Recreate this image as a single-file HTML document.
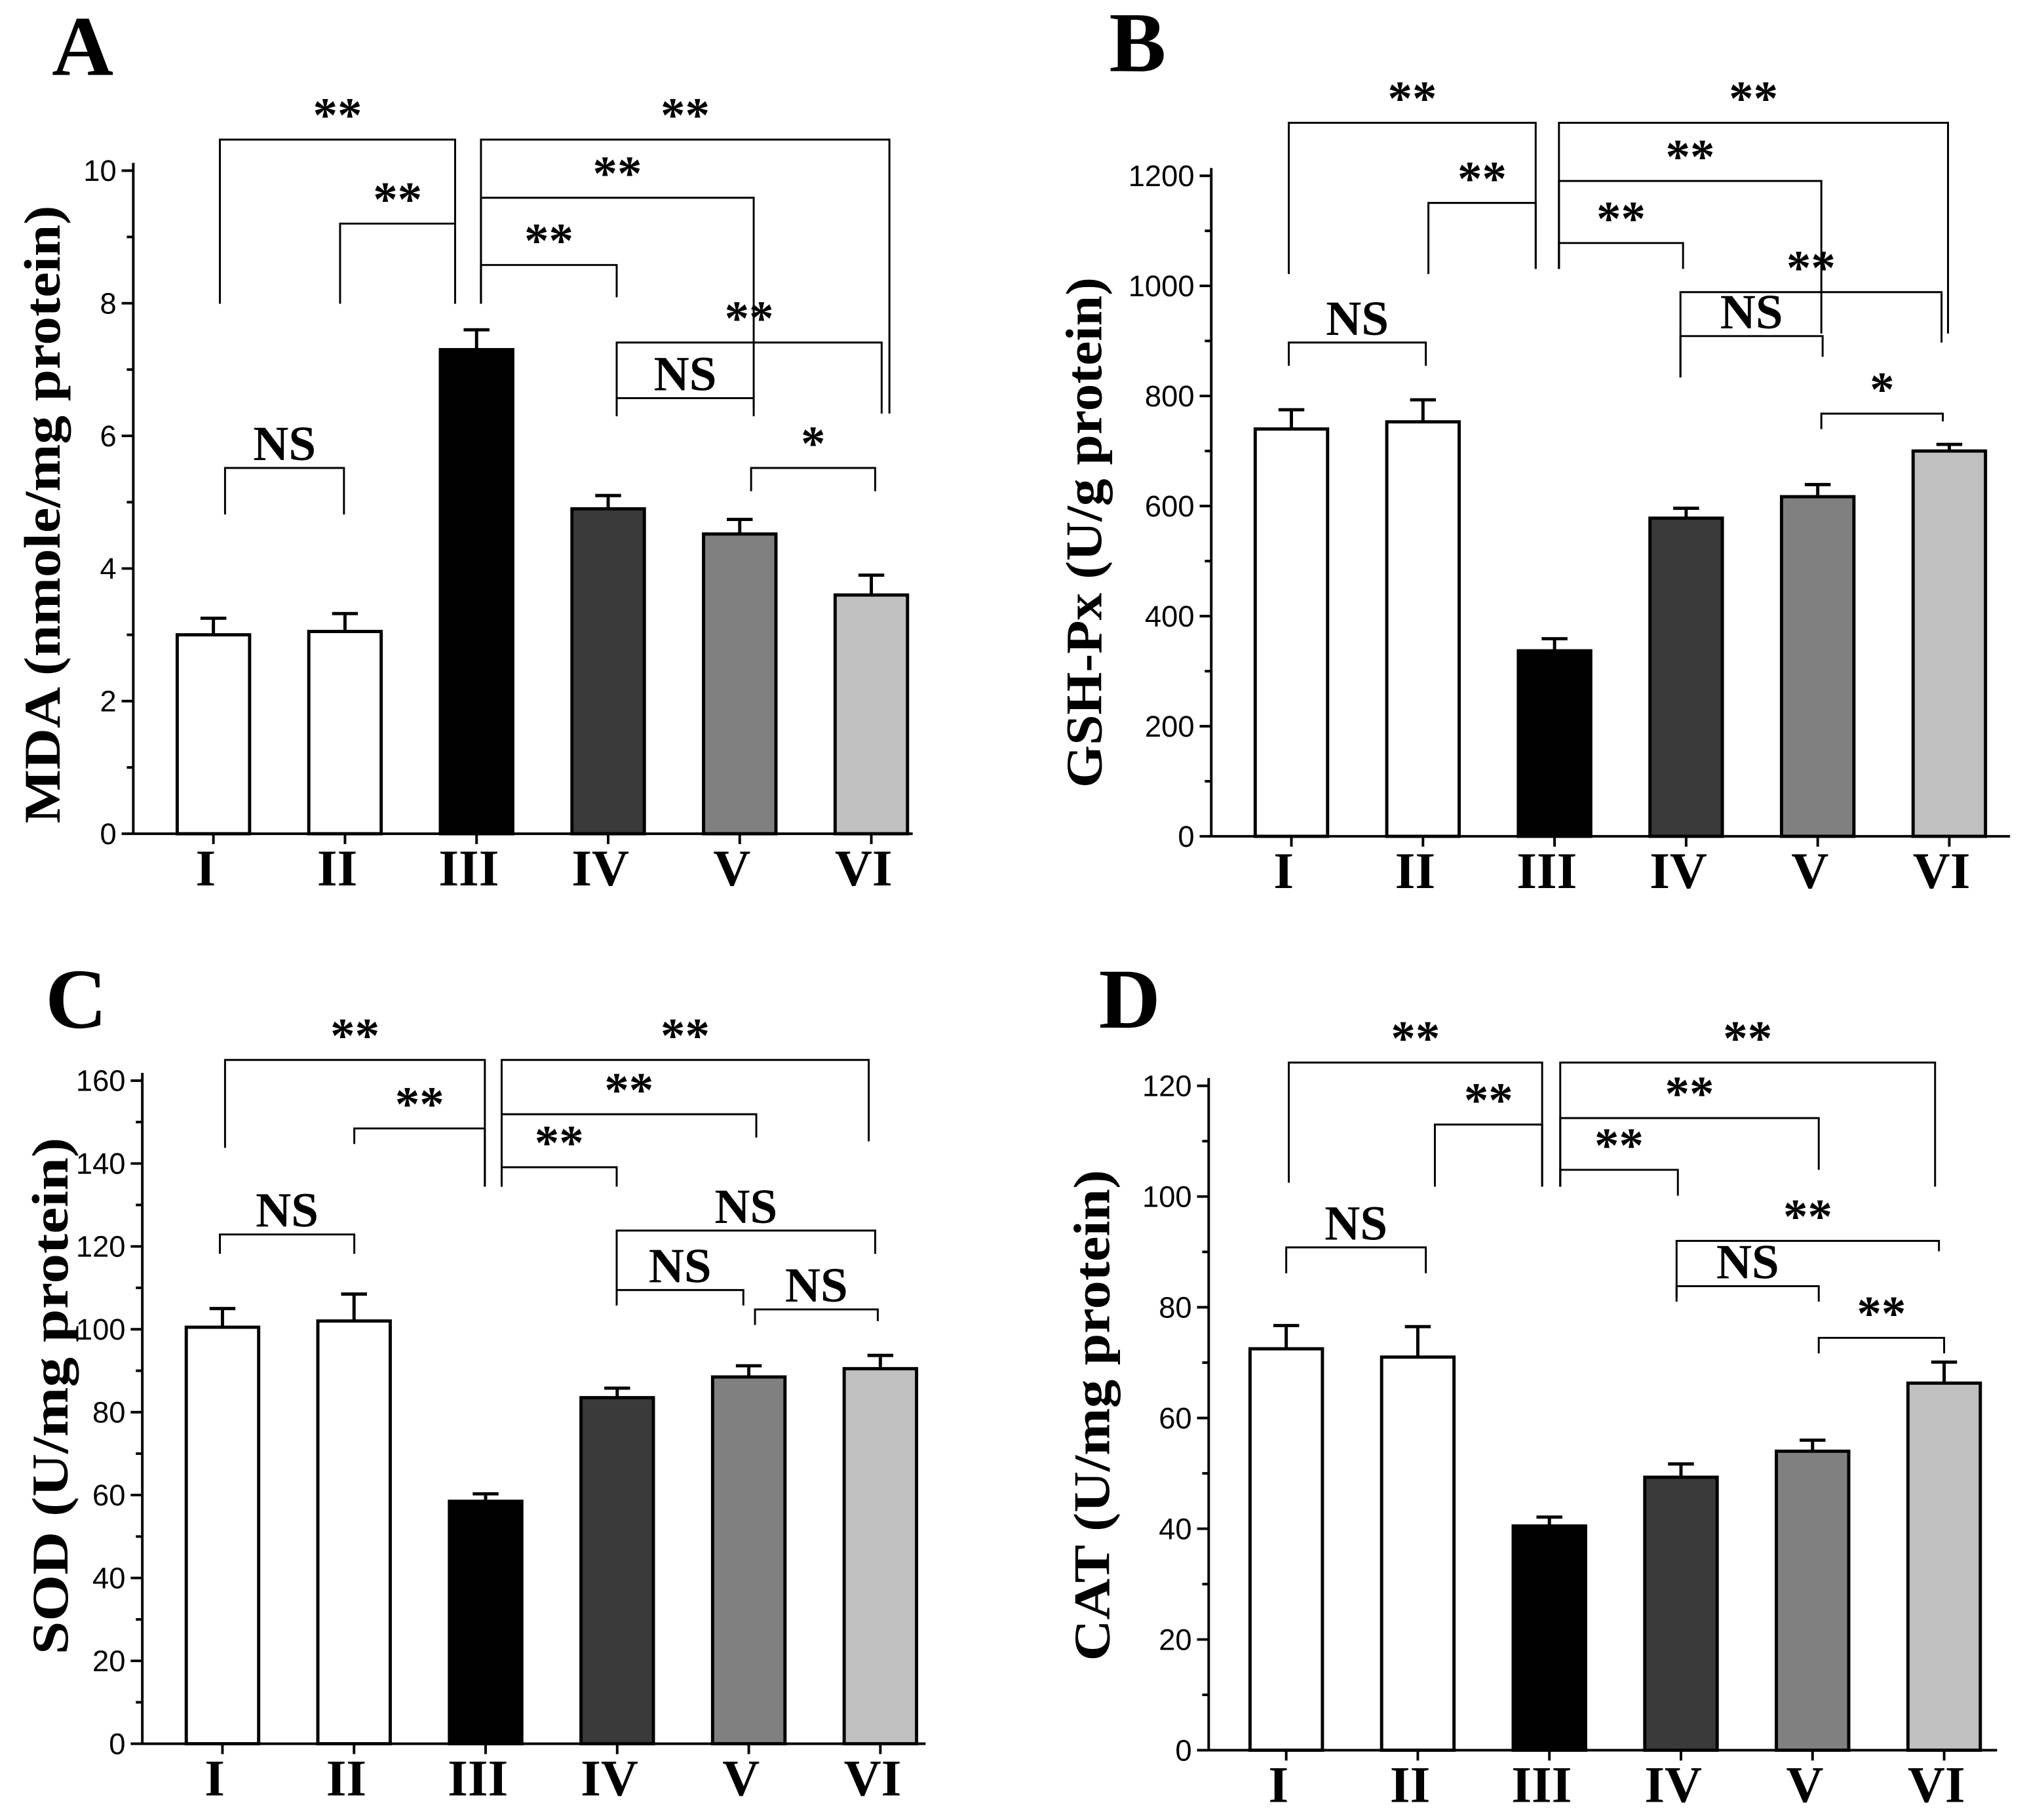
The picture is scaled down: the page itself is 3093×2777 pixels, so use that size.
<!DOCTYPE html>
<html><head><meta charset="utf-8">
<style>
html,body{margin:0;padding:0;background:#fff;}
svg{display:block;}
.tk{font-family:"Liberation Sans",Arial,sans-serif;font-size:23px;fill:#000;}
.cat{font-family:"Liberation Serif",serif;font-size:40px;font-weight:bold;fill:#000;}
.yl{font-family:"Liberation Serif",serif;font-size:40px;font-weight:bold;fill:#000;}
.pl{font-family:"Liberation Serif",serif;font-size:66px;font-weight:bold;fill:#000;}
.sig{font-family:"Liberation Serif",serif;font-size:38px;font-weight:bold;fill:#000;}
</style></head>
<body>
<svg id="fig" width="3093" height="2777" viewBox="0 0 1568 1408" xmlns="http://www.w3.org/2000/svg">
<rect width="1568" height="1408" fill="#fff"/>
</svg>
<script>
const categories = ["I","II","III","IV","V","VI"];
const fills = ["#ffffff","#ffffff","#000000","#3a3a3a","#808080","#c0c0c0"];
// Panel A (MDA)
const aValues = [3.0, 3.05, 7.3, 4.9, 4.52, 3.6];
const aErrors = [0.25, 0.27, 0.3, 0.2, 0.22, 0.3];
const aTicks = [0,2,4,6,8,10];
// Panel B (GSH-Px)
const bValues = [740, 753, 337, 578, 617, 700];
const bErrors = [35, 40, 22, 18, 22, 12];
const bTicks = [0,200,400,600,800,1000,1200];
// Panel C (SOD)
const cValues = [100.5, 102, 58.5, 83.5, 88.5, 90.5];
const cErrors = [4.5, 6.5, 1.8, 2.3, 2.7, 3.2];
const cTicks = [0,20,40,60,80,100,120,140,160];
// Panel D (CAT)
const dValues = [72.5, 71, 40.5, 49.3, 54, 66.3];
const dErrors = [4.2, 5.5, 1.6, 2.4, 2, 3.8];
const dTicks = [0,20,40,60,80,100,120];

const NS = "http://www.w3.org/2000/svg";
const svg = document.getElementById('fig');
function mk(tag, attrs, parent){
  const e = document.createElementNS(NS, tag);
  for (const k in attrs) e.setAttribute(k, attrs[k]);
  (parent||svg).appendChild(e);
  return e;
}

function panel(p){
  const g = mk('g', {});
  
  
  const ymax = p.ticks[p.ticks.length-1];
  const y = v => p.y0 - (v/ymax)*(p.y0 - p.ytop);
  const x = i => p.x0c + i*p.step;
  const ax = mk('line', {x1:p.ax, y1:y(ymax)-6, x2:p.ax, y2:p.y0, stroke:'#000','stroke-width':2}, g);
  
  
  const dt = p.ticks[1]-p.ticks[0];
  p.ticks.forEach((t,k) => {
    mk('line', {x1:p.ax-9, y1:y(t), x2:p.ax, y2:y(t), stroke:'#000','stroke-width':2}, g);
    if (k < p.ticks.length-1) mk('line', {x1:p.ax-5, y1:y(t+dt/2), x2:p.ax, y2:y(t+dt/2), stroke:'#000','stroke-width':2}, g);
    const tl = mk('text', {x:p.ax-13, y:y(t)+8, 'text-anchor':'end', class:'tk'}, g);
    tl.textContent = t;
    
    
  });
  const xa = mk('line', {x1:p.ax, y1:p.y0, x2:p.xend, y2:p.y0, stroke:'#000','stroke-width':2}, g);
  
  
  categories.forEach((c,i) => {
    mk('line', {x1:x(i), y1:p.y0, x2:x(i), y2:p.y0+8, stroke:'#000','stroke-width':2}, g);
    const v = p.values[i], e = p.errors[i];
    const bw = 56;
    const bar = mk('rect', {x:x(i)-bw/2, y:y(v), width:bw, height:p.y0-y(v), fill:fills[i], stroke:'#000','stroke-width':2.5}, g);
    
    
    const eb = mk('path', {d:`M${x(i)},${y(v)} V${y(v+e)} M${x(i)-10},${y(v+e)} H${x(i)+10}`, stroke:'#000','stroke-width':2.5, fill:'none'}, g);
    
    
    const cl = mk('text', {x:x(i)-6, y:p.y0+40, 'text-anchor':'middle', class:'cat'}, g);
    cl.textContent = c;
    
    
  });
  const yl = mk('text', {x:0, y:0, 'text-anchor':'middle', class:'yl', textLength:p.ylen, lengthAdjust:'spacingAndGlyphs', transform:`translate(${p.ylx},${p.yly}) rotate(-90)`}, g);
  yl.textContent = p.ylabel;
  
  
  const pl = mk('text', {x:p.plx, y:p.ply, class:'pl'}, g);
  pl.textContent = p.id;
  
  
  p.br.forEach(b => {
    const [x1,x2,yy,l1,l2,lab] = b;
    const bp = mk('path', {d:`M${x1},${l1} V${yy} H${x2} V${l2}`, stroke:'#000','stroke-width':1.5, fill:'none'}, g);
    
    
    const st = mk('text', {x:(x1+x2)/2, y: lab==='NS'? yy-6 : yy-6, 'text-anchor':'middle', class:'sig'}, g);
    st.textContent = lab;
    
    
  });
}

panel({id:'A', values:aValues, errors:aErrors, ticks:aTicks, ax:103, y0:645, ytop:132, x0c:165, step:101.8, xend:706,
  ylabel:'MDA (nmole/mg protein)', ylx:46, yly:398, ylen:478, plx:40, ply:58,
  br:[[170,352,108,235,235,'**'],[263,352,173,235,235,'**'],[372,688,108,235,320,'**'],[372,583,153,235,315,'**'],
      [372,477,205,235,230,'**'],[477,682,265,320,320,'**'],[477,583,308,322,322,'NS'],[581,677,362,380,380,'*'],[174,266,362,398,398,'NS']]});
panel({id:'B', values:bValues, errors:bErrors, ticks:bTicks, ax:937, y0:647, ytop:136, x0c:999, step:101.8, xend:1555,
  ylabel:'GSH-Px (U/g protein)', ylx:852, yly:412, ylen:395, plx:858, ply:55,
  br:[[997,1188,95,212,208,'**'],[1105,1188,157,212,208,'**'],[1206,1507,95,208,258,'**'],[1206,1409,140,208,258,'**'],
      [1206,1302,188,208,208,'**'],[1300,1502,226,292,265,'**'],[1300,1410,260,292,276,'NS'],[1409,1503,320,332,326,'*'],[997,1103,265,283,283,'NS']]});
panel({id:'C', values:cValues, errors:cErrors, ticks:cTicks, ax:110, y0:1349, ytop:836, x0c:172, step:101.8, xend:716,
  ylabel:'SOD (U/mg protein)', ylx:52, yly:1080, ylen:400, plx:35, ply:795,
  br:[[174,375,820,888,918,'**'],[274,375,873,885,918,'**'],[388,672,820,918,883,'**'],[388,585,862,918,880,'**'],
      [388,477,903,918,918,'**'],[477,677,952,998,970,'NS'],[477,575,998,1010,1010,'NS'],[584,679,1013,1025,1022,'NS'],[170,274,955,970,970,'NS']]});
panel({id:'D', values:dValues, errors:dErrors, ticks:dTicks, ax:935, y0:1354, ytop:840, x0c:995, step:101.8, xend:1545,
  ylabel:'CAT (U/mg protein)', ylx:858, yly:1095, ylen:380, plx:850, ply:795,
  br:[[997,1193,822,915,918,'**'],[1110,1193,870,918,918,'**'],[1207,1497,822,918,918,'**'],[1207,1407,865,918,905,'**'],
      [1207,1298,905,918,925,'**'],[1297,1500,960,1004,968,'**'],[1297,1407,995,1007,1007,'NS'],[1407,1504,1035,1047,1047,'**'],[995,1103,965,985,985,'NS']]});
</script>
</body></html>
